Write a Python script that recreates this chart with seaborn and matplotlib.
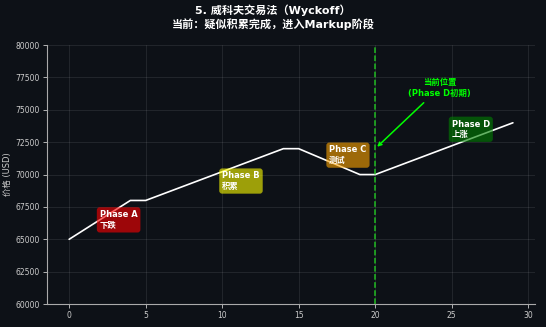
import numpy as np
import pandas as pd
import matplotlib
matplotlib.use("Agg")
import matplotlib.pyplot as plt
import seaborn as sns

days = list(range(30))
price = [65000, 65750, 66500, 67250, 68000,
         68000, 68444, 68889, 69333, 69778, 70222, 70667, 71111, 71556, 72000,
         72000, 71500, 71000, 70500, 70000,
         70000, 70444, 70889, 71333, 71778, 72222, 72667, 73111, 73556, 74000]

phase_names = ["Phase A\n下跌", "Phase B\n积累", "Phase C\n测试", "Phase D\n上涨"]
phase_x = [2, 10, 17, 25]
phase_y = [66500, 69500, 71500, 73500]
phase_colors = ["red", "yellow", "orange", "green"]

current_x = 20
current_y = 72000
note_x = 24.2
note_y = 76700

bg = "#0d1117"
sns.set_theme(style="dark")
plt.rcParams["font.family"] = ["DejaVu Sans", "Noto Sans CJK SC"]
plt.rcParams["axes.unicode_minus"] = False

fig = plt.figure(figsize=(5.46, 3.27), dpi=100, facecolor=bg)
ax = fig.add_axes([0.086, 0.0703, 0.894, 0.7917])
ax.set_facecolor(bg)

df = pd.DataFrame({"day": days, "price": price})
sns.lineplot(data=df, x="day", y="price", ax=ax, color="white", linewidth=1.2)

for name, x, y, c in zip(phase_names, phase_x, phase_y, phase_colors):
    ax.text(x, y, name, color="white", fontsize=6, fontweight="bold", ha="left", va="center",
            bbox=dict(boxstyle="round,pad=0.35", facecolor=c, edgecolor="none", alpha=0.6), zorder=5)

ax.axvline(current_x, color="#22cc22", linestyle="--", linewidth=1.1, alpha=0.9)
ax.annotate("当前位置\n(Phase D初期)", xy=(current_x, current_y), xytext=(note_x, note_y),
            color="lime", fontsize=6, fontweight="bold", ha="center", va="center",
            arrowprops=dict(arrowstyle="->", color="lime", lw=1.1))

ax.set_ylim(60000, 80000)
ax.set_xticks([0, 5, 10, 15, 20, 25, 30])
ax.set_yticks(np.arange(60000, 80001, 2500))
ax.tick_params(colors="#cccccc", labelsize=5.5, length=3, width=0.6, pad=2)
ax.tick_params(axis="x", bottom=True)
ax.tick_params(axis="y", left=True)
ax.set_xlabel("")
ax.set_ylabel("价格 (USD)", color="#cccccc", fontsize=6, labelpad=3)
ax.grid(True, color="#ffffff", alpha=0.1, linewidth=0.6)
for s in ["top", "right"]:
    ax.spines[s].set_visible(False)
for s in ["left", "bottom"]:
    ax.spines[s].set_color("#aaaaaa")
    ax.spines[s].set_linewidth(0.8)

fig.suptitle("5. 威科夫交易法（Wyckoff）\n当前：疑似积累完成，进入Markup阶段",
             color="white", fontsize=8, fontweight="bold", y=0.985, linespacing=1.2)

fig.savefig("out.png", dpi=100, facecolor=bg)
